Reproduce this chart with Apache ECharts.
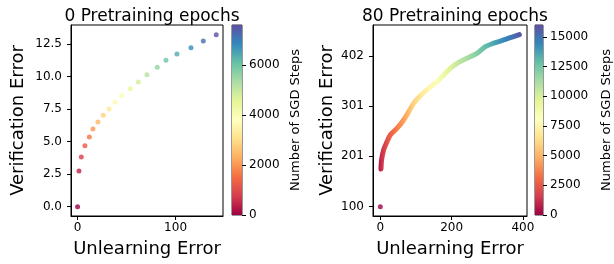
<!DOCTYPE html>
<html>
<head>
<meta charset="utf-8">
<script src="https://cdn.jsdelivr.net/npm/echarts@6/dist/echarts.min.js"></script>
<style>
  html, body { margin: 0; padding: 0; background: #fff; }
  #main { width: 614px; height: 264px; }
</style>
</head>
<body>
<div id="main"></div>
<script>
// 0 pretraining epochs
const leftUnlearn = [0, 1.4, 3.8, 7.5, 12, 15.7, 20.8, 26.2, 32, 38.1, 44.9, 53.8, 62, 70.8, 81.3, 90.2, 101.4, 115.7, 128.3, 141.5]
const leftVerify = [0, 2.75, 3.82, 4.69, 5.36, 5.97, 6.51, 7.03, 7.52, 8.03, 8.54, 9.08, 9.59, 10.15, 10.72, 11.26, 11.75, 12.23, 12.75, 13.23]
const leftSteps = [0, 400, 800, 1200, 1600, 2000, 2400, 2800, 3200, 3600, 4000, 4400, 4800, 5200, 5600, 6000, 6400, 6800, 7200, 7600]

// 80 pretraining epochs
const rightOutlier = [0, 100, 0]
const rightUnlearn = [2, 3.6, 9.3, 18.8, 28, 46.8, 65.5, 79.5, 93.5, 112, 135.5, 159, 177.6, 196, 219.6, 247.7, 271, 294.5, 318, 346, 369.4, 390]
const rightVerify = [175.5, 193.6, 213.6, 230, 243.7, 257, 273.7, 290, 307, 322, 337, 350.5, 364, 377, 389, 399, 407, 420.6, 427.5, 434, 439.5, 444.7]
const rightSteps = [100, 600, 1200, 1800, 2500, 3400, 4200, 5000, 5800, 6600, 7500, 8300, 9000, 9800, 10600, 11400, 12200, 13000, 13700, 14500, 15200, 16000]

// tick labels
const leftXTicks = [0, 100]
const leftYTicks = [0, 2.5, 5, 7.5, 10, 12.5]
const leftCbTicks = [0, 2000, 4000, 6000]
const rightXTicks = [0, 200, 400]
const rightYTicks = [100, 201, 301, 402]
const rightCbTicks = [0, 2500, 5000, 7500, 10000, 12500, 15000]

const spectral = ['#9e0142', '#d53e4f', '#f46d43', '#fdae61', '#fee08b', '#ffffbf', '#e6f598', '#abdda4', '#66c2a5', '#3288bd', '#5e4fa2']

function hexRgb(h) {
  return [parseInt(h.slice(1, 3), 16), parseInt(h.slice(3, 5), 16), parseInt(h.slice(5, 7), 16)]
}
function spectralAt(t) {
  t = Math.max(0, Math.min(1, t))
  const p = t * (spectral.length - 1)
  const i = Math.min(Math.floor(p), spectral.length - 2)
  const f = p - i
  const a = hexRgb(spectral[i]), b = hexRgb(spectral[i + 1])
  const c = a.map((v, k) => Math.round(v + (b[k] - v) * f))
  return 'rgb(' + c.join(',') + ')'
}

const font = 'DejaVu Sans'
const black = '#000'

const leftData = leftUnlearn.map((x, i) => [x, leftVerify[i], leftSteps[i]])
const rightData = rightUnlearn.map((x, i) => [x, rightVerify[i], rightSteps[i]])

const leftMax = leftSteps[leftSteps.length - 1]
const rightMax = rightSteps[rightSteps.length - 1]

// horizontal gradient along the curve, stop at each point (x is monotonic)
const rx0 = rightUnlearn[0], rx1 = rightUnlearn[rightUnlearn.length - 1]
const curveGradient = new echarts.graphic.LinearGradient(0, 0, 1, 0,
  rightData.map(d => ({offset: (d[0] - rx0) / (rx1 - rx0), color: spectralAt(d[2] / rightMax)})))

function cbGradient() {
  return new echarts.graphic.LinearGradient(0, 1, 0, 0,
    spectral.map((c, i) => ({offset: i / (spectral.length - 1), color: c})))
}

function valueAxis(gridIndex, min, max, ticks, opts) {
  return Object.assign({
    type: 'value',
    gridIndex: gridIndex,
    min: min,
    max: max,
    axisLine: {show: true, onZero: false, lineStyle: {color: black, width: 1}},
    axisTick: {show: true, length: 4, lineStyle: {color: black}, customValues: ticks},
    axisLabel: {color: black, fontFamily: font, fontSize: 12, customValues: ticks},
    splitLine: {show: false},
    nameTextStyle: {color: black, fontFamily: font, fontSize: 18}
  }, opts)
}

const chart = echarts.init(document.getElementById('main'))

const option = {
  animation: false,
  textStyle: {fontFamily: font},
  title: [
    {text: '0 Pretraining epochs', left: 147, top: 3, textAlign: 'center',
      textStyle: {fontFamily: font, fontSize: 17, fontWeight: 'normal', color: black}},
    {text: '80 Pretraining epochs', left: 450, top: 3, textAlign: 'center',
      textStyle: {fontFamily: font, fontSize: 17, fontWeight: 'normal', color: black}}
  ],
  grid: [
    {left: 71, top: 25, width: 152, height: 191, show: true, borderColor: black, borderWidth: 1, backgroundColor: '#fff'},
    {left: 232, top: 25, width: 10, height: 190, show: true, borderColor: '#333', borderWidth: 1},
    {left: 373, top: 25, width: 154, height: 191, show: true, borderColor: black, borderWidth: 1, backgroundColor: '#fff'},
    {left: 535, top: 25, width: 11, height: 190, show: true, borderColor: '#333', borderWidth: 1}
  ],
  xAxis: [
    valueAxis(0, -6.7, 148.4, leftXTicks, {
      name: 'Unlearning Error', nameLocation: 'middle', nameGap: 24,
      axisLabel: {color: black, fontFamily: font, fontSize: 12, margin: 6, customValues: leftXTicks}
    }),
    {type: 'category', gridIndex: 1, data: ['s'], show: false},
    valueAxis(2, -20.5, 411.5, rightXTicks, {
      name: 'Unlearning Error', nameLocation: 'middle', nameGap: 24,
      axisLabel: {color: black, fontFamily: font, fontSize: 12, margin: 6, customValues: rightXTicks}
    }),
    {type: 'category', gridIndex: 3, data: ['s'], show: false}
  ],
  yAxis: [
    valueAxis(0, -0.72, 13.98, leftYTicks, {
      name: 'Verification Error', nameLocation: 'middle', nameGap: 44, nameRotate: 90,
      axisLabel: {color: black, fontFamily: font, fontSize: 12, margin: 9, customValues: leftYTicks,
        formatter: v => v.toFixed(1)}
    }),
    valueAxis(1, 0, leftMax, leftCbTicks, {
      position: 'right',
      name: 'Number of SGD Steps', nameLocation: 'middle', nameGap: 47, nameRotate: 90,
      axisLine: {show: false},
      nameTextStyle: {color: black, fontFamily: font, fontSize: 13},
      axisLabel: {color: black, fontFamily: font, fontSize: 12, margin: 7, customValues: leftCbTicks,
        formatter: v => String(v)}
    }),
    valueAxis(2, 81.4, 464, rightYTicks, {
      name: 'Verification Error', nameLocation: 'middle', nameGap: 37, nameRotate: 90,
      axisLabel: {color: black, fontFamily: font, fontSize: 12, margin: 9, customValues: rightYTicks}
    }),
    valueAxis(3, 0, rightMax, rightCbTicks, {
      position: 'right',
      name: 'Number of SGD Steps', nameLocation: 'middle', nameGap: 57, nameRotate: 90,
      axisLine: {show: false},
      nameTextStyle: {color: black, fontFamily: font, fontSize: 13},
      axisLabel: {color: black, fontFamily: font, fontSize: 12, margin: 7, customValues: rightCbTicks,
        formatter: v => String(v)}
    })
  ],
  visualMap: [
    {type: 'continuous', show: false, seriesIndex: 0, dimension: 2, min: 0, max: leftMax,
      inRange: {color: spectral}}
  ],
  series: [
    {
      type: 'scatter', xAxisIndex: 0, yAxisIndex: 0,
      symbolSize: 5,
      data: leftData
    },
    {
      type: 'bar', xAxisIndex: 1, yAxisIndex: 1,
      barWidth: '100%', silent: true,
      itemStyle: {color: cbGradient()},
      data: [leftMax]
    },
    {
      type: 'line', xAxisIndex: 2, yAxisIndex: 2,
      showSymbol: false, smooth: 0.3,
      lineStyle: {width: 5, cap: 'round', join: 'round', color: curveGradient},
      data: rightData
    },
    {
      type: 'scatter', xAxisIndex: 2, yAxisIndex: 2,
      symbolSize: 5,
      itemStyle: {color: spectralAt(rightOutlier[2] / rightMax)},
      data: [rightOutlier]
    },
    {
      type: 'bar', xAxisIndex: 3, yAxisIndex: 3,
      barWidth: '100%', silent: true,
      itemStyle: {color: cbGradient()},
      data: [rightMax]
    }
  ]
}

chart.setOption(option)
</script>
</body>
</html>
